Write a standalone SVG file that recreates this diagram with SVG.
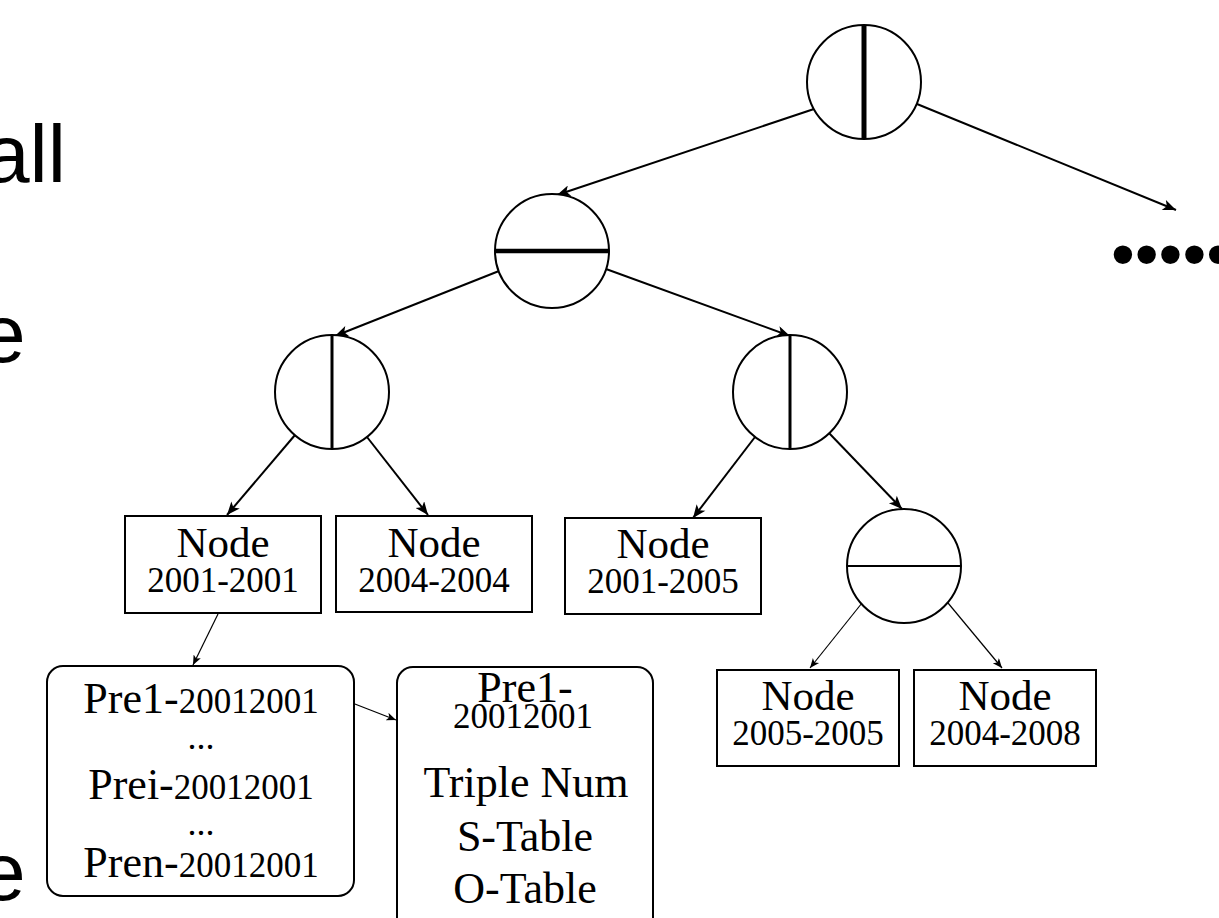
<svg xmlns="http://www.w3.org/2000/svg" width="1219" height="918" viewBox="0 0 1219 918">
<style>
.c{fill:#fff;stroke:#000;stroke-width:2}
.b{fill:#fff;stroke:#000;stroke-width:2}
.t{font-family:"Liberation Serif","Times New Roman",serif;fill:#000;text-anchor:middle}
.big{font-size:43px}
.num{font-size:35px}
.pre{font-size:44px}
.side{font-family:"Liberation Sans",Arial,sans-serif;font-size:82px;fill:#000}
.a{stroke:#000;stroke-width:2;fill:none;marker-end:url(#ah)}
.s{stroke:#000;stroke-width:1.2;fill:none;marker-end:url(#as)}
</style>
<defs>
<marker id="ah" viewBox="0 0 12 10" refX="12" refY="5" markerWidth="15" markerHeight="11" markerUnits="userSpaceOnUse" orient="auto"><path d="M0,0 L12,5 L0,10 L3,5 z" fill="#000"/></marker>
<marker id="as" viewBox="0 0 12 10" refX="12" refY="5" markerWidth="11" markerHeight="8" markerUnits="userSpaceOnUse" orient="auto"><path d="M0,0 L12,5 L0,10 L3,5 z" fill="#000"/></marker>
</defs>
<rect width="1219" height="918" fill="#fff"/>
<g id="side-text">
<text class="side" x="66" y="182" text-anchor="end">all</text>
<text class="side" x="-20" y="362">e</text>
<text class="side" x="-20" y="900">e</text>
</g>
<g id="connectors">
<line class="a" x1="814" y1="109" x2="557" y2="195"/>
<line class="a" x1="917" y1="104" x2="1176" y2="210"/>
<line class="a" x1="499" y1="271" x2="335" y2="336"/>
<line class="a" x1="606" y1="269" x2="790" y2="336"/>
<line class="a" x1="295" y1="435" x2="227" y2="515"/>
<line class="a" x1="367" y1="437" x2="428" y2="515"/>
<line class="a" x1="755" y1="437" x2="693" y2="518"/>
<line class="a" x1="829" y1="433" x2="902" y2="509"/>
<line class="s" x1="862" y1="603" x2="810" y2="668"/>
<line class="s" x1="948" y1="603" x2="1002" y2="668"/>
<line class="s" x1="218" y1="614" x2="193" y2="665"/>
<line class="s" x1="342" y1="699" x2="396" y2="720"/>
</g>
<g id="root">
<circle class="c" cx="864" cy="82" r="57"/>
<line x1="864" y1="25" x2="864" y2="139" stroke="#000" stroke-width="5"/>
</g>
<g id="level2">
<circle class="c" cx="552" cy="251" r="57"/>
<line x1="495" y1="251" x2="609" y2="251" stroke="#000" stroke-width="4.5"/>
</g>
<g id="level3-left">
<circle class="c" cx="332" cy="392" r="57"/>
<line x1="332" y1="335" x2="332" y2="449" stroke="#000" stroke-width="3"/>
</g>
<g id="level3-right">
<circle class="c" cx="790" cy="392" r="57"/>
<line x1="790" y1="335" x2="790" y2="449" stroke="#000" stroke-width="3"/>
</g>
<g id="level4-right">
<circle class="c" cx="904" cy="566" r="57"/>
<line x1="847" y1="566" x2="961" y2="566" stroke="#000" stroke-width="2"/>
</g>
<g id="more">
<text x="1111" y="277" style="font-family:'Liberation Sans',Arial,sans-serif;font-size:68px;fill:#000">•••••</text>
</g>
<g id="node-2001-2001">
<rect class="b" x="125" y="516" width="196" height="97"/>
<text class="t big" x="223" y="557">Node</text>
<text class="t num" x="223" y="592">2001-2001</text>
</g>
<g id="node-2004-2004">
<rect class="b" x="336" y="516" width="196" height="96"/>
<text class="t big" x="434" y="557">Node</text>
<text class="t num" x="434" y="592">2004-2004</text>
</g>
<g id="node-2001-2005">
<rect class="b" x="565" y="518" width="196" height="96"/>
<text class="t big" x="663" y="558">Node</text>
<text class="t num" x="663" y="593">2001-2005</text>
</g>
<g id="node-2005-2005">
<rect class="b" x="717" y="670" width="182" height="96"/>
<text class="t big" x="808" y="710">Node</text>
<text class="t num" x="808" y="745">2005-2005</text>
</g>
<g id="node-2004-2008">
<rect class="b" x="914" y="670" width="182" height="96"/>
<text class="t big" x="1005" y="710">Node</text>
<text class="t num" x="1005" y="745">2004-2008</text>
</g>
<g id="pre-list">
<rect class="b" x="47" y="666" width="307" height="230" rx="16"/>
<text class="t" x="201" y="713"><tspan class="pre">Pre1-</tspan><tspan class="num">20012001</tspan></text>
<text class="t" x="201" y="749" style="font-size:36px">...</text>
<text class="t" x="201" y="799"><tspan class="pre">Prei-</tspan><tspan class="num">20012001</tspan></text>
<text class="t" x="201" y="835" style="font-size:36px">...</text>
<text class="t" x="201" y="877"><tspan class="pre">Pren-</tspan><tspan class="num">20012001</tspan></text>
</g>
<g id="pre-detail">
<rect class="b" x="397" y="667" width="256" height="270" rx="16"/>
<text class="t pre" x="525" y="702">Pre1-</text>
<text class="t num" x="523" y="728">20012001</text>
<text class="t pre" x="526" y="797">Triple Num</text>
<text class="t pre" x="525" y="851">S-Table</text>
<text class="t pre" x="525" y="903">O-Table</text>
</g>
</svg>
